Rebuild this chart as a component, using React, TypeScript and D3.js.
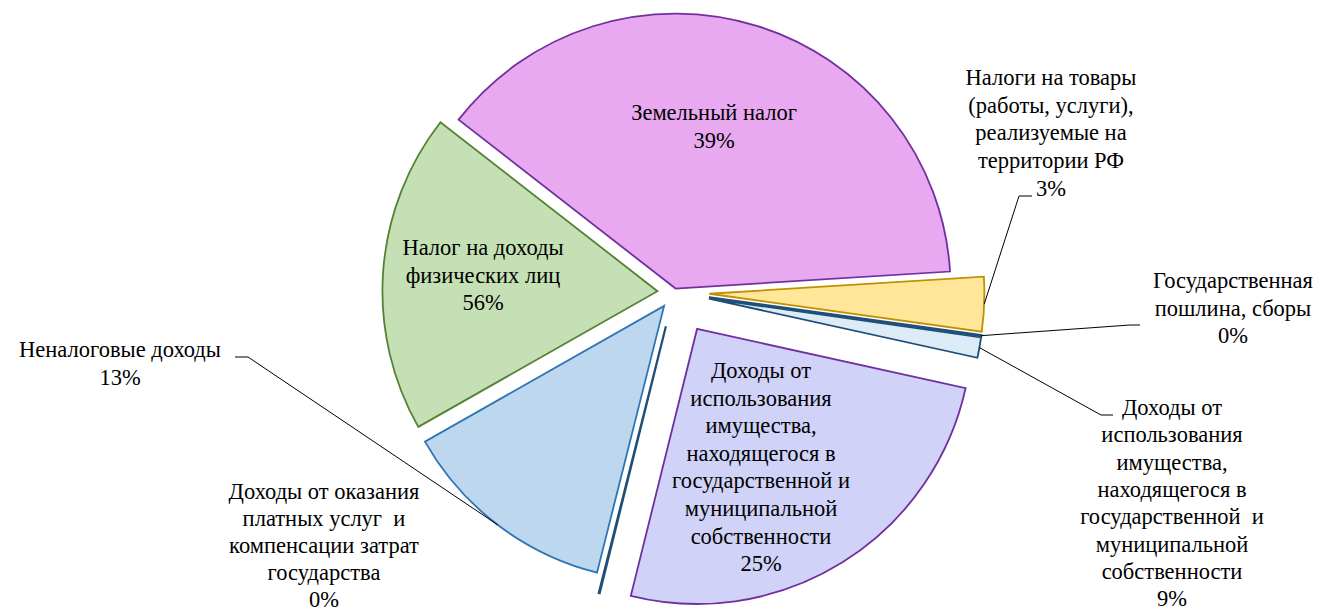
import * as d3 from 'd3';
import React from 'react';

// slices in clockwise order, starting from the upper-left edge of "Земельный налог"
const categories = [
    'Земельный налог',
    'Налоги на товары (работы, услуги), реализуемые на территории РФ',
    'Государственная пошлина, сборы',
    'Доходы от использования имущества (неналоговые)',
    'Доходы от использования имущества',
    'Доходы от оказания платных услуг и компенсации затрат государства',
    'Неналоговые доходы',
    'Налог на доходы физических лиц',
];
// share of the circle each slice takes
const shares = [38.6, 3.2, 0.05, 1.2, 25.5, 0.05, 12.9, 18.8];
// percentages as printed on the chart
const pctLabels = ['39%', '3%', '0%', '9%', '25%', '0%', '13%', '56%'];
// label lines (the percentage is added as the last line)
const labelLines = [
    ['Земельный налог'],
    ['Налоги на товары', '(работы, услуги),', 'реализуемые на', 'территории РФ'],
    ['Государственная', 'пошлина, сборы'],
    ['Доходы от', 'использования', 'имущества,', 'находящегося в', 'государственной \u00A0и', 'муниципальной', 'собственности'],
    ['Доходы от', 'использования', 'имущества,', 'находящегося в', 'государственной и', 'муниципальной', 'собственности'],
    ['Доходы от оказания', 'платных услуг \u00A0и', 'компенсации затрат', 'государства'],
    ['Неналоговые доходы'],
    ['Налог на доходы', 'физических лиц'],
];

const fills = ['#E9A9F0', '#FFE699', '#1F4E79', '#DDEBF7', '#D0D2F8', '#1F4E79', '#BDD7EE', '#C5E0B4'];
const strokes = ['#7030A0', '#BF9000', '#1F4E79', '#1F4E79', '#7030A0', '#1F4E79', '#2E75B6', '#548235'];
const explode = [4, 35, 35, 35, 43, 35, 17, 17];

// label block: centre x, first baseline, line step, optional leader elbow [x, y, xEnd]
const labelPos = [
    { x: 714, y: 120, step: 27.6, leader: null },
    { x: 1051, y: 85, step: 27.7, leader: [1019, 196, 1032] },
    { x: 1233, y: 288, step: 27.7, leader: [1130, 325, 1140] },
    { x: 1172, y: 415, step: 27.3, leader: [1101, 415, 1113] },
    { x: 761, y: 378, step: 27.6, leader: null },
    { x: 324, y: 499, step: 27.0, leader: null },
    { x: 120, y: 357, step: 27.6, leader: [248, 357, 235] },
    { x: 483, y: 255, step: 27.6, leader: null },
];

const width = 1321;
const height = 612;
const cx = 674.4;
const cy = 292.4;
const radius = 275;

const pie = d3.pie<number>()
    .sort(null)
    .value(d => d)
    .startAngle(-52.1 * Math.PI / 180)
    .endAngle((360 - 52.1) * Math.PI / 180);

const arc = d3.arc<d3.PieArcDatum<number>>()
    .innerRadius(0)
    .outerRadius(radius);

const mid = (d) => (d.startAngle + d.endAngle) / 2;

export default function App() {
    const arcs = pie(shares);

    return (
        <svg
            width={width}
            height={height}
            style={{ position: 'absolute', left: 0, top: 0, fontFamily: "'Liberation Serif'", fontSize: '22.5px' }}
        >
            <g transform={'translate(' + cx + ',' + cy + ')'}>
                {arcs.map((d, i) => {
                    const a = mid(d);
                    return (
                        <path
                            key={'s' + i}
                            d={arc(d)}
                            transform={'translate(' + explode[i] * Math.sin(a) + ',' + (-explode[i] * Math.cos(a)) + ')'}
                            fill={fills[i]}
                            stroke={strokes[i]}
                            strokeWidth={shares[i] < 0.1 ? 2.2 : 1.8}
                        />
                    );
                })}
            </g>
            {arcs.map((d, i) => {
                // leader line from outer edge of slice to the label
                const lp = labelPos[i].leader;
                if (!lp) return null;
                const a = mid(d);
                const r = radius + explode[i];
                const sx = cx + r * Math.sin(a);
                const sy = cy - r * Math.cos(a);
                return (
                    <path
                        key={'l' + i}
                        d={'M' + sx + ',' + sy + 'L' + lp[0] + ',' + lp[1] + 'L' + lp[2] + ',' + lp[1]}
                        fill="none"
                        stroke="#000"
                        strokeWidth={1}
                    />
                );
            })}
            {categories.map((c, i) => {
                const lines = labelLines[i].concat([pctLabels[i]]);
                return lines.map((ln, k) => (
                    <text
                        key={'t' + i + '_' + k}
                        x={labelPos[i].x}
                        y={labelPos[i].y + k * labelPos[i].step}
                        style={{ fontFamily: "'Liberation Serif'", fontSize: '22.5px', textAnchor: 'middle' }}
                    >
                        {ln}
                    </text>
                ));
            })}
        </svg>
    );
}
